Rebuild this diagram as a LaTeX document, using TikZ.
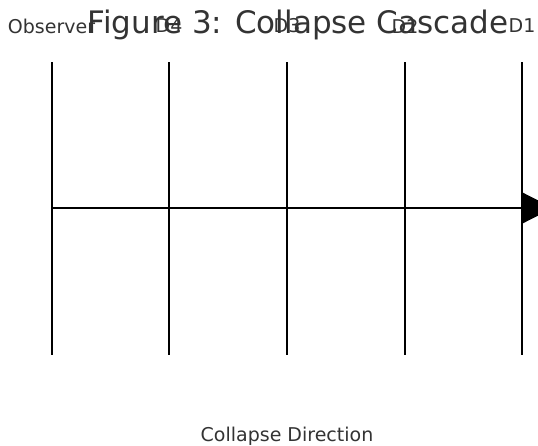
\documentclass[tikz,border=0pt]{standalone}
\usepackage{fontspec}
\setmainfont{DejaVu Sans}
\usetikzlibrary{arrows.meta}
\definecolor{txt}{HTML}{333333}
\begin{document}
\begin{tikzpicture}[x=1pt,y=-1pt,
  lbl/.style={text=txt,font=\fontsize{19}{21}\selectfont,inner sep=0pt},
  ttl/.style={text=txt,font=\fontsize{31}{34}\selectfont,inner sep=0pt},
  vline/.style={draw=black,line width=2pt},
  hline/.style={draw=black,line width=2.2pt}]
\useasboundingbox (0,0) rectangle (538,445);
\clip (0,0) rectangle (538,445);
\foreach \n/\x in {o/52,d4/169,d3/287,d2/405,d1/522}{
  \coordinate (\n t) at (\x,62);
  \coordinate (\n b) at (\x,355);
  \draw[vline] (\n t) -- (\n b);
}
\node[lbl] (lo) at (51.5,26) {Observer};
\node[lbl] (l4) at (169,26) {D4};
\node[lbl] (l3) at (287,26) {D3};
\node[lbl] (l2) at (405,26) {D2};
\node[lbl] (l1) at (522,26) {D1};
\node[ttl] (title) at (298,25) {Figure 3: Collapse Cascade};
\coordinate (as) at (52,208);
\coordinate (ae) at (553,208);
\draw[hline,-{Triangle[length=31pt,width=31pt]}] (as) -- (ae);
\node[lbl] (cap) at (287,436) {Collapse Direction};
\end{tikzpicture}
\end{document}
